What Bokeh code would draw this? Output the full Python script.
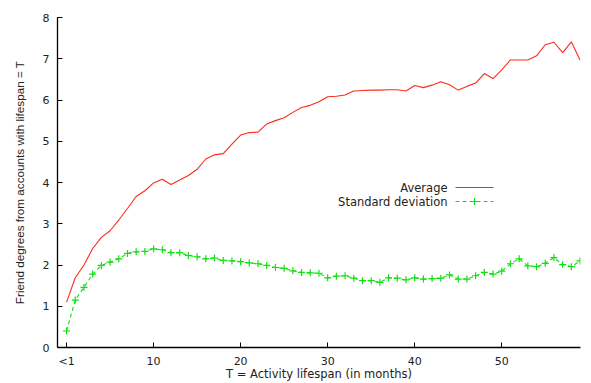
from bokeh.plotting import figure
from bokeh.models import Range1d, FixedTicker, Label, Arrow
from bokeh.embed import file_html
from bokeh.resources import INLINE

# ---- data ----
months = list(range(0, 60))
average = [1.10, 1.69, 2.00, 2.40, 2.67, 2.83, 3.09, 3.37, 3.66, 3.80,
           3.99, 4.08, 3.95, 4.06, 4.17, 4.32, 4.57, 4.67, 4.70, 4.93,
           5.15, 5.21, 5.22, 5.42, 5.50, 5.57, 5.70, 5.82, 5.87, 5.96,
           6.08, 6.09, 6.12, 6.22, 6.23, 6.24, 6.24, 6.25, 6.25, 6.22,
           6.35, 6.30, 6.36, 6.44, 6.37, 6.24, 6.33, 6.41, 6.64, 6.52,
           6.73, 6.97, 6.97, 6.97, 7.07, 7.34, 7.40, 7.15, 7.41, 6.97]
std_dev = [0.40, 1.15, 1.46, 1.78, 1.99, 2.07, 2.15, 2.28, 2.32, 2.33,
           2.39, 2.37, 2.30, 2.30, 2.23, 2.20, 2.15, 2.17, 2.11, 2.10,
           2.08, 2.05, 2.03, 1.99, 1.94, 1.92, 1.86, 1.82, 1.81, 1.80,
           1.69, 1.73, 1.74, 1.68, 1.62, 1.62, 1.58, 1.69, 1.68, 1.64,
           1.69, 1.66, 1.67, 1.68, 1.76, 1.66, 1.66, 1.74, 1.82, 1.78,
           1.85, 2.03, 2.15, 1.98, 1.96, 2.04, 2.18, 2.01, 1.96, 2.10]
x_ticks = [0, 10, 20, 30, 40, 50]
x_tick_labels = ["<1", "10", "20", "30", "40", "50"]
y_ticks = [0, 1, 2, 3, 4, 5, 6, 7, 8]
series_names = ["Average", "Standard deviation"]

RED = "#ff2a1a"
GREEN = "#10e010"
FONT_H = "DejaVu Sans"
FONT_V = "Liberation Sans"
TXT = "#222222"

p = figure(width=591, height=383, output_backend="svg", toolbar_location=None,
           x_range=Range1d(-1.04, 59.05), y_range=Range1d(0, 8),
           min_border_left=57, min_border_right=11, min_border_top=17,
           min_border_bottom=36)
p.outline_line_color = None
p.grid.visible = False
p.background_fill_color = "white"
p.border_fill_color = "white"

p.line(months, average, line_color=RED, line_width=1.1)
p.line(months, std_dev, line_color=GREEN, line_width=1.1, line_dash="4 3")
p.scatter(months, std_dev, marker="cross", size=7, line_color=GREEN, line_width=1.2)

for ax in (p.xaxis[0], p.yaxis[0]):
    ax.axis_line_color = "black"
    ax.axis_line_width = 1.3
    ax.major_tick_in = 5
    ax.major_tick_out = 0
    ax.major_tick_line_color = "black"
    ax.minor_tick_line_color = None
    ax.major_label_text_font = FONT_H
    ax.major_label_text_font_size = "11px"
    ax.major_label_text_color = TXT
    ax.axis_label_text_font_style = "normal"
    ax.axis_label_text_color = TXT

p.xaxis.ticker = FixedTicker(ticks=x_ticks)
p.xaxis.major_label_overrides = {t: l for t, l in zip(x_ticks, x_tick_labels)}
p.xaxis.axis_label = "T = Activity lifespan (in months)"
p.xaxis.axis_label_text_font = FONT_H
p.xaxis.axis_label_text_font_size = "11.5px"
p.xaxis.major_label_standoff = 7
p.xaxis.axis_label_standoff = -4

p.yaxis.ticker = FixedTicker(ticks=y_ticks)
p.yaxis.axis_label = "Friend degrees from accounts with lifespan = T"
p.yaxis.axis_label_text_font = FONT_V
p.yaxis.axis_label_text_font_size = "11.7px"
p.yaxis.major_label_standoff = 8
p.yaxis.axis_label_standoff = 14

# ---- legend (text left, sample right), screen units ----
LX_TEXT = 390
LY = [160, 146]
LX0, LX1 = 398, 436
for name, y, col, dash in zip(series_names, LY, [RED, GREEN], ["solid", "4 3"]):
    p.add_layout(Label(x=LX_TEXT, y=y, x_units="screen", y_units="screen",
                       text=name, text_align="right", text_baseline="middle",
                       text_font=FONT_H, text_font_size="11.5px", text_color=TXT))
    p.add_layout(Arrow(x_start=LX0, y_start=y, x_end=LX1, y_end=y,
                       start_units="screen", end_units="screen", end=None,
                       line_color=col, line_width=1.1, line_dash=dash))
mx = (LX0 + LX1) / 2
p.add_layout(Arrow(x_start=mx - 3.5, y_start=LY[1], x_end=mx + 3.5, y_end=LY[1],
                   start_units="screen", end_units="screen", end=None,
                   line_color=GREEN, line_width=1.2))
p.add_layout(Arrow(x_start=mx, y_start=LY[1] - 3.5, x_end=mx, y_end=LY[1] + 3.5,
                   start_units="screen", end_units="screen", end=None,
                   line_color=GREEN, line_width=1.2))

open("out.html", "w").write(file_html(p, INLINE))
